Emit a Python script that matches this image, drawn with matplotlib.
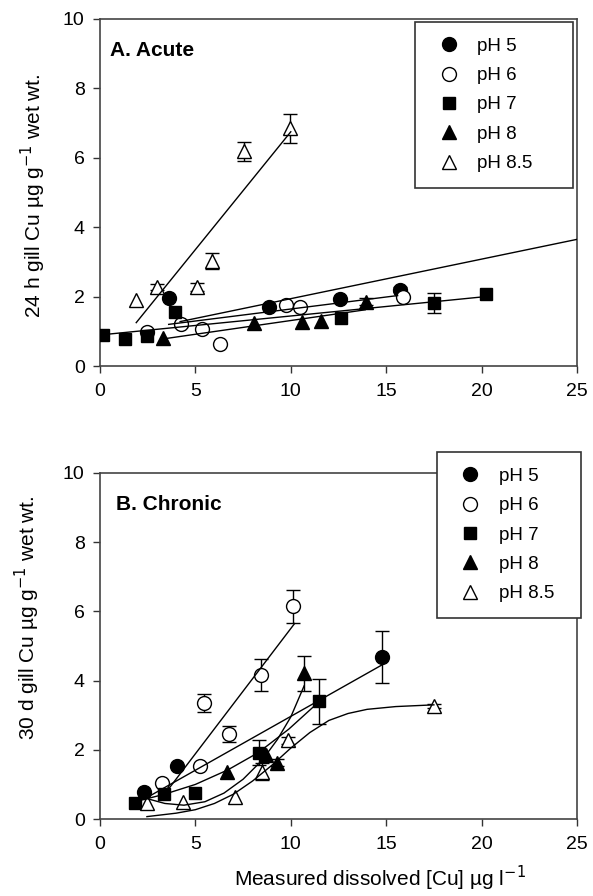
import numpy as np
import matplotlib
matplotlib.use("Agg")
import matplotlib.pyplot as plt

plt.rcParams['font.family'] = ['Liberation Sans', 'DejaVu Sans']

labels = ['pH 5', 'pH 6', 'pH 7', 'pH 8', 'pH 8.5']

# --- A. Acute (24 h) ---
a_x = {
    'pH 5': [3.6, 8.85, 12.6, 15.7],
    'pH 6': [2.45, 4.25, 5.35, 6.3, 9.75, 10.5, 15.9],
    'pH 7': [0.15, 1.3, 2.45, 3.95, 12.65, 17.5, 20.25],
    'pH 8': [3.3, 8.05, 10.6, 11.6, 13.95],
    'pH 8.5': [1.9, 3.0, 5.1, 5.85, 7.55, 9.95],
}
a_y = {
    'pH 5': [1.96, 1.71, 1.92, 2.2],
    'pH 6': [0.98, 1.2, 1.07, 0.63, 1.76, 1.69, 2.0],
    'pH 7': [0.89, 0.79, 0.86, 1.56, 1.37, 1.82, 2.08],
    'pH 8': [0.8, 1.23, 1.28, 1.3, 1.85],
    'pH 8.5': [1.9, 2.28, 2.28, 3.02, 6.19, 6.85],
}
a_err = {
    'pH 5': [0, 0, 0, 0.08],
    'pH 6': [0, 0.08, 0, 0, 0, 0, 0],
    'pH 7': [0, 0, 0, 0, 0, 0.28, 0],
    'pH 8': [0, 0, 0, 0, 0.1],
    'pH 8.5': [0, 0.08, 0.12, 0.23, 0.27, 0.42],
}
# regression lines (x, y vertices)
a_fit = {
    'pH 5': ([3.6, 15.6], [1.2, 2.03]),
    'pH 6': ([4.2, 25.0], [1.28, 3.65]),
    'pH 7': ([0.1, 20.2], [0.9, 2.0]),
    'pH 8': ([3.3, 13.9], [0.78, 1.62]),
    'pH 8.5': ([1.9, 10.0], [1.25, 6.75]),
}

# --- B. Chronic (30 d) ---
b_x = {
    'pH 5': [2.33, 4.03, 14.8],
    'pH 6': [3.25, 5.26, 5.44, 6.75, 8.42, 10.1],
    'pH 7': [1.84, 3.37, 4.96, 8.33, 11.5],
    'pH 8': [6.67, 8.7, 9.3, 10.7],
    'pH 8.5': [2.46, 4.33, 7.1, 8.5, 9.86, 17.5],
}
b_y = {
    'pH 5': [0.79, 1.53, 4.68],
    'pH 6': [1.03, 1.53, 3.35, 2.46, 4.16, 6.15],
    'pH 7': [0.45, 0.72, 0.76, 1.92, 3.4],
    'pH 8': [1.37, 1.85, 1.63, 4.21],
    'pH 8.5': [0.45, 0.5, 0.64, 1.37, 2.28, 3.27],
}
b_err = {
    'pH 5': [0, 0, 0.74],
    'pH 6': [0, 0, 0.27, 0.23, 0.46, 0.48],
    'pH 7': [0, 0, 0, 0.35, 0.65],
    'pH 8': [0, 0, 0.1, 0.51],
    'pH 8.5': [0, 0, 0, 0.25, 0.1, 0.05],
}
b_fit = {
    'pH 5': ([2.33, 14.8], [0.58, 4.46]),
    'pH 6': ([3.5, 10.2], [0.8, 5.65]),
    'pH 7': ([1.84, 3.4, 5.0, 6.7, 8.3, 9.9, 11.5],
              [0.5, 0.72, 1.0, 1.42, 1.92, 2.6, 3.4]),
    'pH 8': ([2.4, 3.4, 4.4, 5.5, 6.5, 7.5, 8.5, 9.3, 10.0, 10.7],
             [0.6, 0.45, 0.4, 0.5, 0.75, 1.15, 1.7, 2.3, 2.95, 3.85]),
    'pH 8.5': ([2.46, 4.0, 5.0, 6.0, 7.0, 8.0, 9.0, 10.0, 11.0, 12.0, 13.0, 14.0, 15.5, 17.5],
               [0.07, 0.17, 0.27, 0.45, 0.72, 1.1, 1.55, 2.05, 2.5, 2.85, 3.05, 3.17, 3.25, 3.3]),
}

styles = {
    'pH 5': dict(marker='o', mfc='black', ms=10),
    'pH 6': dict(marker='o', mfc='white', ms=10),
    'pH 7': dict(marker='s', mfc='black', ms=9),
    'pH 8': dict(marker='^', mfc='black', ms=10),
    'pH 8.5': dict(marker='^', mfc='white', ms=10),
}

fig = plt.figure(figsize=(5.93, 8.96), dpi=100)
axA = fig.add_axes([0.1686, 0.5915, 0.8044, 0.3873])
axB = fig.add_axes([0.1686, 0.0859, 0.8044, 0.3862])


def draw(ax, xs, ys, errs, fits, title, title_x, leg_box):
    for lab in labels:
        x = np.array(xs[lab])
        y = np.array(ys[lab])
        e = np.array(errs[lab])
        m = e > 0
        if m.any():
            ax.errorbar(x[m], y[m], yerr=e[m], fmt='none', ecolor='black',
                        elinewidth=1, capsize=5, capthick=1, zorder=2)
        ax.plot(x, y, ls='none', mec='black', mew=1, label=lab, zorder=3,
                **styles[lab])
        fx, fy = fits[lab]
        ax.plot(fx, fy, color='black', lw=1, zorder=4)
    ax.set_xlim(0, 25)
    ax.set_ylim(0, 10)
    ax.set_xticks([0, 5, 10, 15, 20, 25])
    ax.set_yticks([0, 2, 4, 6, 8, 10])
    ax.tick_params(direction='out', length=5, width=1, labelsize=14,
                   color='#333333')
    ax.tick_params(axis='x', pad=7)
    ax.tick_params(axis='y', pad=6)
    for s in ax.spines.values():
        s.set_color('#444444')
        s.set_linewidth(1.2)
    ax.text(title_x, 0.91, title, transform=ax.transAxes, fontsize=15,
            fontweight='bold', va='center')
    leg = ax.legend(loc='upper left', bbox_to_anchor=leg_box, mode='expand',
                    fancybox=False, framealpha=1, edgecolor='#333333',
                    fontsize=13.5, handlelength=1.9, handletextpad=0.55,
                    labelspacing=0.65, borderpad=0.85, borderaxespad=0)
    leg.get_frame().set_linewidth(1.2)


draw(axA, a_x, a_y, a_err, a_fit, 'A. Acute', 0.021, (0.66, 0.5, 0.332, 0.492))
draw(axB, b_x, b_y, b_err, b_fit, 'B. Chronic', 0.034, (0.706, 0.5, 0.302, 0.561))

fig.text(0.056, 0.782, r'24 h gill Cu µg g$^{-1}$ wet wt.', rotation=90,
         ha='center', va='center', fontsize=15)
fig.text(0.046, 0.31, r'30 d gill Cu µg g$^{-1}$ wet wt.', rotation=90,
         ha='center', va='center', fontsize=15)
fig.text(0.64, 0.02, r'Measured dissolved [Cu] µg l$^{-1}$',
         ha='center', va='center', fontsize=15)

fig.savefig('out.png', dpi=100)
